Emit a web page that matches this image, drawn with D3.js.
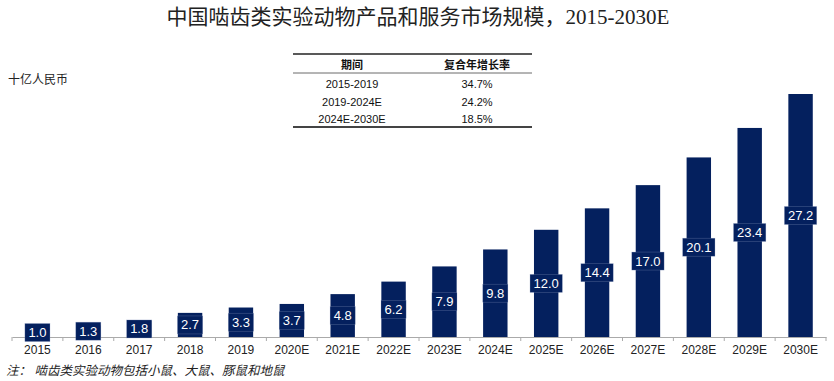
<!DOCTYPE html>
<html><head><meta charset="utf-8">
<script src="https://cdn.jsdelivr.net/npm/d3@7/dist/d3.min.js"></script>
<style>
body{margin:0;background:#fff;}
svg{display:block;}
</style></head>
<body>
<svg id="chart" width="834" height="381"></svg>
<script>
const categories = ["2015","2016","2017","2018","2019","2020E","2021E","2022E","2023E","2024E","2025E","2026E","2027E","2028E","2029E","2030E"];
const values = [1.0,1.3,1.8,2.7,3.3,3.7,4.8,6.2,7.9,9.8,12.0,14.4,17.0,20.1,23.4,27.2];
const tablePeriods = ["2015-2019","2019-2024E","2024E-2030E"];
const tableCagr = ["34.7%","24.2%","18.5%"];
const tableHeader = ["期间","复合年增长率"];
const title = "中国啮齿类实验动物产品和服务市场规模，2015-2030E";
const unitLabel = "十亿人民币";
const note = "注：  啮齿类实验动物包括小鼠、大鼠、豚鼠和地鼠";

const svg = d3.select("#chart");
const sans = "Arial, 'Liberation Sans', 'Noto Sans CJK SC', sans-serif";
const navy = "#04205e";

svg.append("text").attr("x",418).attr("y",24).attr("text-anchor","middle")
  .attr("font-family","'Liberation Serif','Times New Roman','Noto Sans CJK SC',serif")
  .attr("font-size",21).attr("fill","#222").text(title);

svg.append("text").attr("x",8).attr("y",84).attr("font-family",sans)
  .attr("font-size",12).attr("fill","#222").text(unitLabel);

// table
const tb = svg.append("g").attr("font-family",sans).attr("font-size",11).attr("fill","#111");
tb.append("line").attr("x1",293).attr("x2",532).attr("y1",54).attr("y2",54).attr("stroke","#222").attr("stroke-width",1.5);
tb.append("line").attr("x1",293).attr("x2",532).attr("y1",73).attr("y2",73).attr("stroke","#444").attr("stroke-width",0.8);
tb.append("line").attr("x1",293).attr("x2",532).attr("y1",127).attr("y2",127).attr("stroke","#444").attr("stroke-width",2);
const colX = [352, 477];
tableHeader.forEach((h,i)=>tb.append("text").attr("x",colX[i]).attr("y",69).attr("text-anchor","middle")
  .attr("font-weight","bold").text(h));
tablePeriods.forEach((p,i)=>{
  const yy = 88 + i*17.5;
  tb.append("text").attr("x",colX[0]).attr("y",yy).attr("text-anchor","middle").text(p);
  tb.append("text").attr("x",colX[1]).attr("y",yy).attr("text-anchor","middle").text(tableCagr[i]);
});

// scales
const x = d3.scaleBand().domain(categories).range([12,826]).paddingInner(0.52).paddingOuter(0.26);
const y = d3.scaleLinear().domain([0,27.2]).range([337,94]);

svg.append("g").selectAll("rect").data(values).join("rect")
  .attr("x",(d,i)=>x(categories[i])).attr("width",x.bandwidth())
  .attr("y",d=>y(d)).attr("height",d=>y(0)-y(d)).attr("fill",navy);

// axis
const axisG = svg.append("g").attr("transform","translate(0,337)");
axisG.call(d3.axisBottom(x).tickSize(0).tickPadding(8));
axisG.select(".domain").attr("stroke","#aaa").attr("stroke-width",1);
axisG.selectAll("text").attr("font-family",sans).attr("font-size",12).attr("fill","#222");
const bounds = categories.map(c=>x(c)-x.step()*x.paddingInner()/2);
bounds.push(x(categories[categories.length-1])+x.bandwidth()+x.step()*x.paddingInner()/2);
axisG.selectAll(".bt").data(bounds).join("line").attr("class","bt")
  .attr("x1",d=>d).attr("x2",d=>d).attr("y1",0).attr("y2",4).attr("stroke","#aaa");

// value labels
const lg = svg.append("g");
values.forEach((v,i)=>{
  const cx = x(categories[i])+x.bandwidth()/2;
  const cy = (y(v)+y(0))/2;
  const r = lg.append("rect");
  const t = lg.append("text").attr("x",cx).attr("y",cy+4.5).attr("text-anchor","middle")
    .attr("font-family",sans).attr("font-size",13).attr("fill","#fff").text(v.toFixed(1));
  const w = Math.max(t.node().getComputedTextLength()+7, x.bandwidth());
  r.attr("x",cx-w/2).attr("y",cy-9).attr("width",w).attr("height",18)
    .attr("fill",navy).attr("stroke","#8e9cc0").attr("stroke-opacity",0.45).attr("stroke-width",0.6);
});

svg.append("text").attr("x",6).attr("y",375).attr("font-family",sans).attr("font-style","italic")
  .attr("font-size",12.5).attr("fill","#222").text(note);
</script>
</body></html>
